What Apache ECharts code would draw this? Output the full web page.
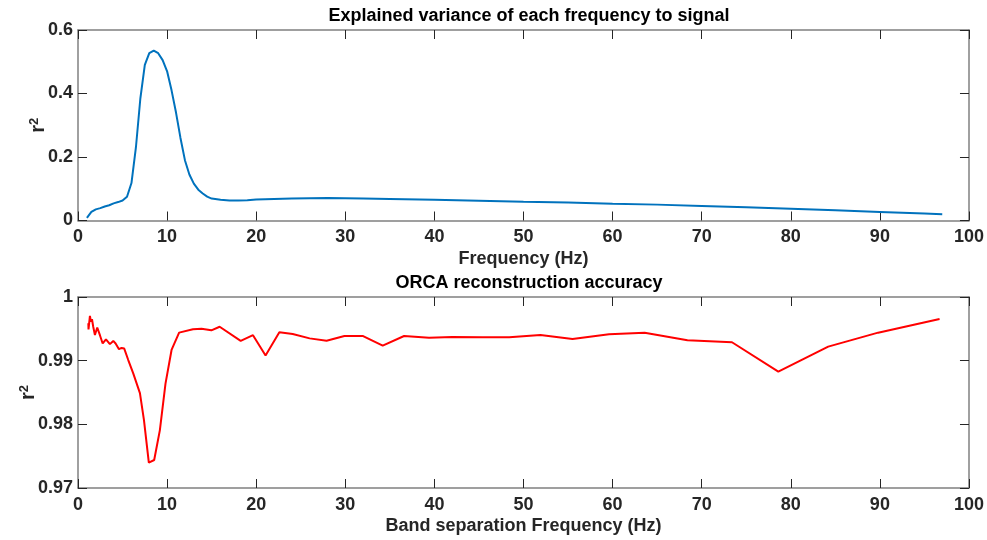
<!DOCTYPE html>
<html>
<head>
<meta charset="utf-8">
<script src="https://cdn.jsdelivr.net/npm/echarts@6/dist/echarts.min.js"></script>
<style>
html,body{margin:0;padding:0;background:#fff;}
#chart{width:987px;height:540px;}
</style>
</head>
<body>
<div id="chart"></div>
<script>
// ---- data ----
var topTitle = 'Explained variance of each frequency to signal';
var botTitle = 'ORCA reconstruction accuracy';
var topXName = 'Frequency (Hz)';
var botXName = 'Band separation Frequency (Hz)';

var topFreq = [1,1.5,2,2.5,3,3.5,4,4.5,5,5.5,6,6.5,7,7.5,8,8.5,9,9.5,10,10.5,11,11.5,12,12.5,13,13.5,14,14.5,15,16,17,18,19,20,22,24,26,28,30,32,35,40,45,50,55,60,65,70,75,80,85,90,95,97];
var topR2 = [0.008,0.027,0.035,0.039,0.044,0.048,0.054,0.058,0.063,0.075,0.118,0.23,0.385,0.49,0.527,0.535,0.527,0.505,0.47,0.41,0.34,0.26,0.19,0.145,0.116,0.097,0.085,0.075,0.069,0.065,0.063,0.063,0.064,0.066,0.068,0.069,0.070,0.0705,0.070,0.0693,0.068,0.065,0.062,0.059,0.057,0.053,0.050,0.046,0.042,0.037,0.032,0.027,0.022,0.0195];

var botFreq = [1.16,1.18,1.34,1.45,1.57,1.71,1.9,2.16,2.46,2.77,3.14,3.58,3.96,4.22,4.6,4.89,5.19,5.64,6.2,6.95,7.4,7.95,8.55,9.19,9.82,10.5,11.35,12.9,13.86,14.97,15.9,18.26,19.64,21.05,22.6,24.1,26,27.9,29.9,32,34.2,36.6,39.4,42,45.4,48.4,51.9,55.5,59.6,63.6,68.4,73.4,78.6,84.2,89.8,96.7];
var botR2 = [0.99587,0.9949,0.99702,0.99612,0.9965,0.99533,0.99403,0.9952,0.994,0.9927,0.99335,0.9926,0.9931,0.9927,0.9918,0.992,0.9919,0.9901,0.988,0.9849,0.9807,0.9740,0.9744,0.9791,0.9864,0.99168,0.9944,0.99493,0.995,0.99477,0.99533,0.9931,0.994,0.9908,0.99446,0.9942,0.9935,0.99314,0.99387,0.99387,0.99235,0.99387,0.9936,0.99372,0.99367,0.99367,0.99403,0.9934,0.99414,0.9944,0.9932,0.99289,0.98827,0.9922,0.9944,0.99655];

var topYTicks = {min:0, max:0.6, interval:0.2};
var botYTicks = {min:0.97, max:1, interval:0.01};
var xTicks = {min:0, max:100, interval:10};

function pairs(xs, ys){ return xs.map(function(x,i){return [x, ys[i]];}); }

var FONT = '"Liberation Sans", Arial, sans-serif';
var txt = '#262626';
var boxColor = '#808080';

function xAx(grid, pos, showLabels, name){
  return {
    type:'value', gridIndex:grid, position:pos,
    min:xTicks.min, max:xTicks.max, interval:xTicks.interval,
    axisLine:{show:true, onZero:false, lineStyle:{color:boxColor, width:1.5}},
    axisTick:{show:true, inside:true, length:9, lineStyle:{color:txt, width:1}},
    axisLabel:{show:showLabels, color:txt, fontSize:18, fontWeight:'bold', fontFamily:FONT, margin:8},
    splitLine:{show:false},
    name: name || '', nameLocation:'middle', nameGap: grid===0 ? 30 : 29, nameMoveOverlap:false,
    nameTextStyle:{color:txt, fontSize:18, fontWeight:'bold', fontFamily:FONT, verticalAlign:'top'}
  };
}
function yAx(grid, pos, showLabels, ticks, gap){
  return {
    type:'value', gridIndex:grid, position:pos,
    min:ticks.min, max:ticks.max, interval:ticks.interval,
    axisLine:{show:true, onZero:false, lineStyle:{color:boxColor, width:1.5}},
    axisTick:{show:true, inside:true, length:9, lineStyle:{color:txt, width:1}},
    axisLabel:{show:showLabels, color:txt, fontSize:18, fontWeight:'bold', fontFamily:FONT, margin:5,
      formatter:function(v){ return String(Math.round(v*1000)/1000); }},
    splitLine:{show:false},
    name: showLabels ? '{r|r}{s|2}' : '', nameLocation:'middle', nameGap:gap, nameRotate:90, nameMoveOverlap:false,
    nameTextStyle:{color:txt, fontFamily:FONT, fontWeight:'bold',
      rich:{r:{fontSize:20, fontWeight:'bold', color:txt, fontFamily:FONT},
            s:{fontSize:13, fontWeight:'bold', color:txt, fontFamily:FONT, verticalAlign:'top', padding:[0,0,7,0]}}}
  };
}

var chart = echarts.init(document.getElementById('chart'), null, {renderer:'canvas'});
chart.setOption({
  animation:false,
  backgroundColor:'#fff',
  title:[
    {text:topTitle, left:524, top:2, textAlign:'center',
     textStyle:{color:'#000', fontSize:18, fontWeight:'bold', fontFamily:FONT}},
    {text:botTitle, left:524, top:269, textAlign:'center',
     textStyle:{color:'#000', fontSize:18, fontWeight:'bold', fontFamily:FONT}}
  ],
  grid:[
    {left:78, top:30, width:892.7, height:190.5, containLabel:false},
    {left:78, top:297, width:892.7, height:191, containLabel:false}
  ],
  xAxis:[
    xAx(0,'bottom',true,topXName),
    xAx(0,'top',false),
    xAx(1,'bottom',true,botXName),
    xAx(1,'top',false)
  ],
  yAxis:[
    yAx(0,'left',true,topYTicks,30),
    yAx(0,'right',false,topYTicks,0),
    yAx(1,'left',true,botYTicks,40),
    yAx(1,'right',false,botYTicks,0)
  ],
  series:[
    {type:'line', xAxisIndex:0, yAxisIndex:0, data:pairs(topFreq, topR2), showSymbol:false, symbol:'none',
     lineStyle:{color:'#0072BD', width:2}, smooth:false},
    {type:'line', xAxisIndex:2, yAxisIndex:2, data:pairs(botFreq, botR2), showSymbol:false, symbol:'none',
     lineStyle:{color:'#FF0000', width:2}, smooth:false}
  ]
});
</script>
</body>
</html>
